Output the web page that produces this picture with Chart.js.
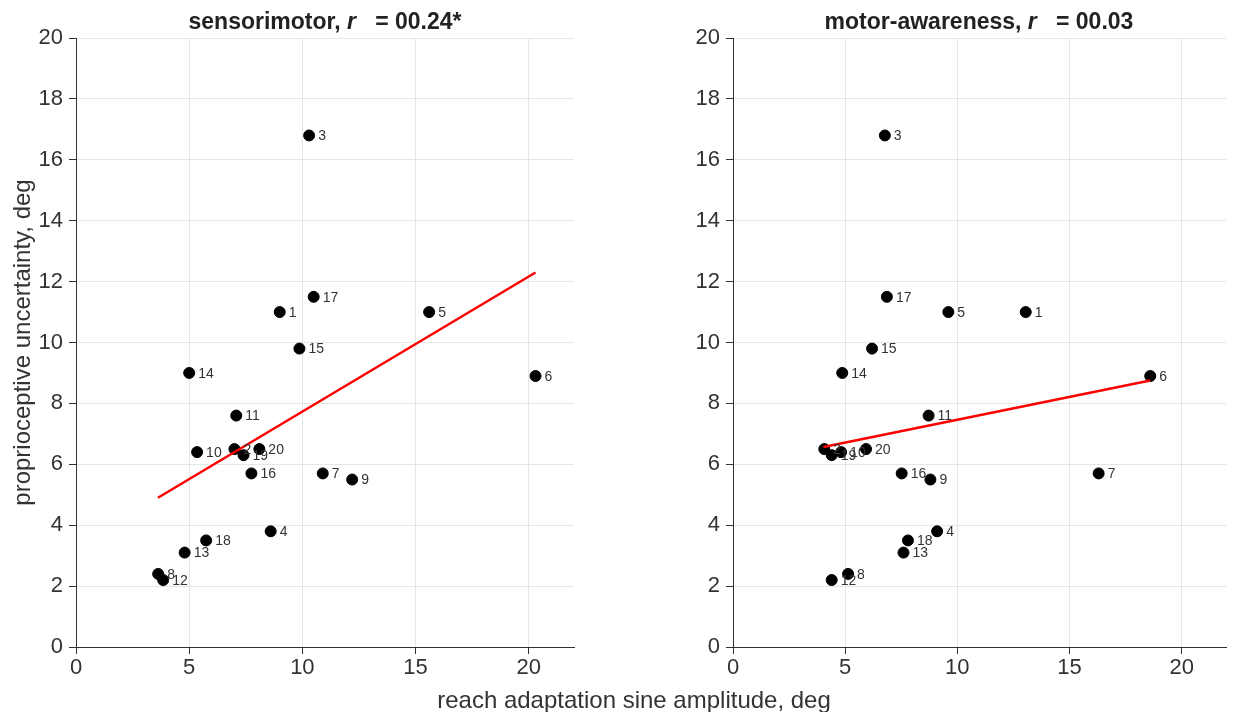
<!DOCTYPE html>
<html>
<head>
<meta charset="utf-8">
<script src="https://cdn.jsdelivr.net/npm/chart.js@4.4.1/dist/chart.umd.min.js"></script>
<style>
  body { margin: 0; background: #fff; width: 1233px; height: 712px; position: relative; overflow: hidden;
         font-family: "Liberation Sans", Arial, sans-serif; color: #222; }
  canvas { position: absolute; top: 0; }
  .title { position: absolute; top: 8px; width: 498px; text-align: center; font-weight: bold; font-size: 23px; line-height: 26px; color: #222; white-space: pre; }
  .xlabel { position: absolute; left: 334px; top: 686px; width: 600px; text-align: center; font-size: 24px; line-height: 28px; color: #333; }
</style>
</head>
<body>
<canvas id="left" width="600" height="712" style="left:0"></canvas>
<canvas id="right" width="576" height="712" style="left:657px"></canvas>
<div class="title" style="left:76px">sensorimotor, <i>r</i>   = 00.24*</div>
<div class="title" style="left:730px">motor-awareness, <i>r</i>   = 00.03</div>
<div class="xlabel">reach adaptation sine amplitude, deg</div>
<script>
// participant ids, shared y values (proprioceptive uncertainty, deg)
const ids = [1, 2, 3, 4, 5, 6, 7, 8, 9, 10, 11, 12, 13, 14, 15, 16, 17, 18, 19, 20]
const uncertainty = [11.0, 6.5, 16.8, 3.8, 11.0, 8.9, 5.7, 2.4, 5.5, 6.4, 7.6, 2.2, 3.1, 9.0, 9.8, 5.7, 11.5, 3.5, 6.3, 6.5]

// reach adaptation sine amplitude per participant
const sensorimotorAmp = [9.0, 7.0, 10.3, 8.6, 15.6, 20.3, 10.9, 3.63, 12.2, 5.35, 7.08, 3.85, 4.8, 5.0, 9.87, 7.75, 10.5, 5.75, 7.4, 8.1]
const awarenessAmp = [13.05, 4.07, 6.77, 9.1, 9.6, 18.6, 16.3, 5.13, 8.8, 4.82, 8.72, 4.4, 7.6, 4.87, 6.2, 7.52, 6.86, 7.8, 4.4, 5.93]

// regression line end points
const sensorimotorFit = [[3.62, 4.9], [20.3, 12.3]]
const awarenessFit = [[4.03, 6.57], [18.6, 8.75]]

const xTicks = [0, 5, 10, 15, 20]
const yTicks = [0, 2, 4, 6, 8, 10, 12, 14, 16, 18, 20]

const pointLabels = {
  id: 'pointLabels',
  afterDatasetsDraw(chart) {
    const ctx = chart.ctx
    const meta = chart.getDatasetMeta(1)
    ctx.save()
    ctx.font = '14px "Liberation Sans", Arial, sans-serif'
    ctx.fillStyle = '#333'
    ctx.textBaseline = 'middle'
    meta.data.forEach((pt, i) => {
      ctx.fillText(String(ids[i]), pt.x + 9, pt.y + 1)
    })
    ctx.restore()
  }
}

function buildChart(canvasId, amps, fit, showYTitle) {
  const tickFont = { family: '"Liberation Sans", Arial, sans-serif', size: 22 }
  return new Chart(document.getElementById(canvasId), {
    type: 'scatter',
    data: {
      datasets: [
        {
          type: 'line',
          data: fit.map(p => ({ x: p[0], y: p[1] })),
          borderColor: '#ff0000',
          borderWidth: 2.5,
          pointRadius: 0,
          order: 0
        },
        {
          data: amps.map((a, i) => ({ x: a, y: uncertainty[i] })),
          backgroundColor: '#000',
          borderColor: '#000',
          pointRadius: 5.5,
          order: 1
        }
      ]
    },
    options: {
      responsive: false,
      animation: false,
      devicePixelRatio: 1,
      layout: { padding: { top: 38, right: showYTitle ? 26 : 3, bottom: 28, left: 0 } },
      plugins: { legend: { display: false }, tooltip: { enabled: false } },
      scales: {
        x: {
          type: 'linear',
          min: 0,
          max: 22,
          afterBuildTicks: s => { s.ticks = xTicks.map(v => ({ value: v })) },
          afterFit: s => { s.height = 37 },
          ticks: { font: tickFont, color: '#333', padding: 1, maxRotation: 0 },
          grid: { color: '#e6e6e6', tickColor: '#333', tickLength: 7 },
          border: { color: '#333', width: 1 }
        },
        y: {
          type: 'linear',
          min: 0,
          max: 20,
          afterBuildTicks: s => { s.ticks = yTicks.map(v => ({ value: v })) },
          afterFit: s => { s.width = 76 },
          ticks: { font: tickFont, color: '#333', padding: 6 },
          grid: { color: '#e6e6e6', tickColor: '#333', tickLength: 7 },
          border: { color: '#333', width: 1 },
          title: {
            display: showYTitle,
            text: 'proprioceptive uncertainty, deg',
            color: '#333',
            font: { family: '"Liberation Sans", Arial, sans-serif', size: 24 },
            padding: { top: 9, bottom: 0 }
          }
        }
      }
    },
    plugins: [pointLabels]
  })
}

buildChart('left', sensorimotorAmp, sensorimotorFit, true)
buildChart('right', awarenessAmp, awarenessFit, false)
</script>
</body>
</html>
